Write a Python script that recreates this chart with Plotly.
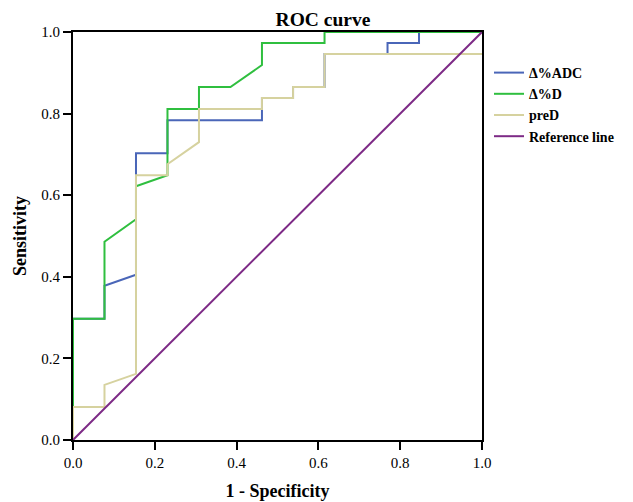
import plotly.graph_objects as go

# False positive rate (1 - specificity) and sensitivity for each curve
adc_x = [0.0, 0.0, 0.077, 0.077, 0.154, 0.154, 0.231, 0.231, 0.462, 0.462, 0.538, 0.538, 0.615, 0.615, 0.769, 0.769, 0.846, 0.846, 1.0]
adc_y = [0.0, 0.297, 0.297, 0.378, 0.405, 0.703, 0.703, 0.784, 0.784, 0.838, 0.838, 0.865, 0.865, 0.946, 0.946, 0.973, 0.973, 1.0, 1.0]

d_x = [0.0, 0.0, 0.077, 0.077, 0.154, 0.154, 0.231, 0.231, 0.308, 0.308, 0.385, 0.462, 0.462, 0.615, 0.615, 1.0]
d_y = [0.0, 0.297, 0.297, 0.486, 0.541, 0.622, 0.649, 0.811, 0.811, 0.865, 0.865, 0.919, 0.973, 0.973, 1.0, 1.0]

pred_x = [0.0, 0.0, 0.077, 0.077, 0.154, 0.154, 0.231, 0.231, 0.308, 0.308, 0.462, 0.462, 0.538, 0.538, 0.615, 0.615, 1.0]
pred_y = [0.0, 0.081, 0.081, 0.135, 0.162, 0.649, 0.649, 0.676, 0.730, 0.811, 0.811, 0.838, 0.838, 0.865, 0.865, 0.946, 0.946]

ref_x = [0.0, 1.0]
ref_y = [0.0, 1.0]

tick_vals = [0.0, 0.2, 0.4, 0.6, 0.8, 1.0]
tick_text = ["0.0", "0.2", "0.4", "0.6", "0.8", "1.0"]

SERIF = "Liberation Serif, Times New Roman, serif"
L, R, T, B = 73, 482, 32, 440
W, H = 633, 502

fig = go.Figure()
fig.add_trace(go.Scatter(x=adc_x, y=adc_y, mode="lines", name="<b>Δ%ADC</b>",
                         line=dict(color="#4a66b8", width=2)))
fig.add_trace(go.Scatter(x=d_x, y=d_y, mode="lines", name="<b>Δ%D</b>",
                         line=dict(color="#2fbf3f", width=2)))
fig.add_trace(go.Scatter(x=pred_x, y=pred_y, mode="lines", name="<b>preD</b>",
                         line=dict(color="#d6d29f", width=2)))
fig.add_trace(go.Scatter(x=ref_x, y=ref_y, mode="lines", name="<b>Reference line</b>",
                         line=dict(color="#7d2a86", width=2)))

axis_common = dict(range=[0, 1], tickvals=tick_vals, ticktext=tick_text,
                   showgrid=False, zeroline=False, showline=True, linecolor="black",
                   linewidth=2, mirror=True, ticks="outside", ticklen=8, tickwidth=1.5,
                   tickcolor="black", automargin=False,
                   tickfont=dict(size=15, family=SERIF, color="black"))

fig.update_layout(
    width=W, height=H,
    margin=dict(l=L, r=W - R, t=T, b=H - B, autoexpand=False),
    paper_bgcolor="white", plot_bgcolor="white",
    font=dict(family=SERIF, size=15, color="black"),
    title=dict(text="<b>ROC curve</b>", x=323 / W, xanchor="center", xref="container",
               y=1 - 19.5 / H, yanchor="middle", font=dict(size=19.5, family=SERIF)),
    showlegend=True,
    legend=dict(x=1 + 7 / (R - L), y=1 - (57 - T) / (B - T), xanchor="left", yanchor="top",
                font=dict(size=14, family=SERIF, color="black"),
                bgcolor="rgba(0,0,0,0)", tracegroupgap=0, itemwidth=30),
    xaxis=dict(**axis_common,
               title=dict(text="<b>1 - Specificity</b>", font=dict(size=18, family=SERIF), standoff=14)),
    yaxis=dict(**axis_common,
               title=dict(text="<b>Sensitivity</b>", font=dict(size=18, family=SERIF), standoff=10)),
)

fig.write_html("out.html", config={"displayModeBar": False},
               post_script="document.body.style.margin='0px';document.body.style.overflow='hidden';")
